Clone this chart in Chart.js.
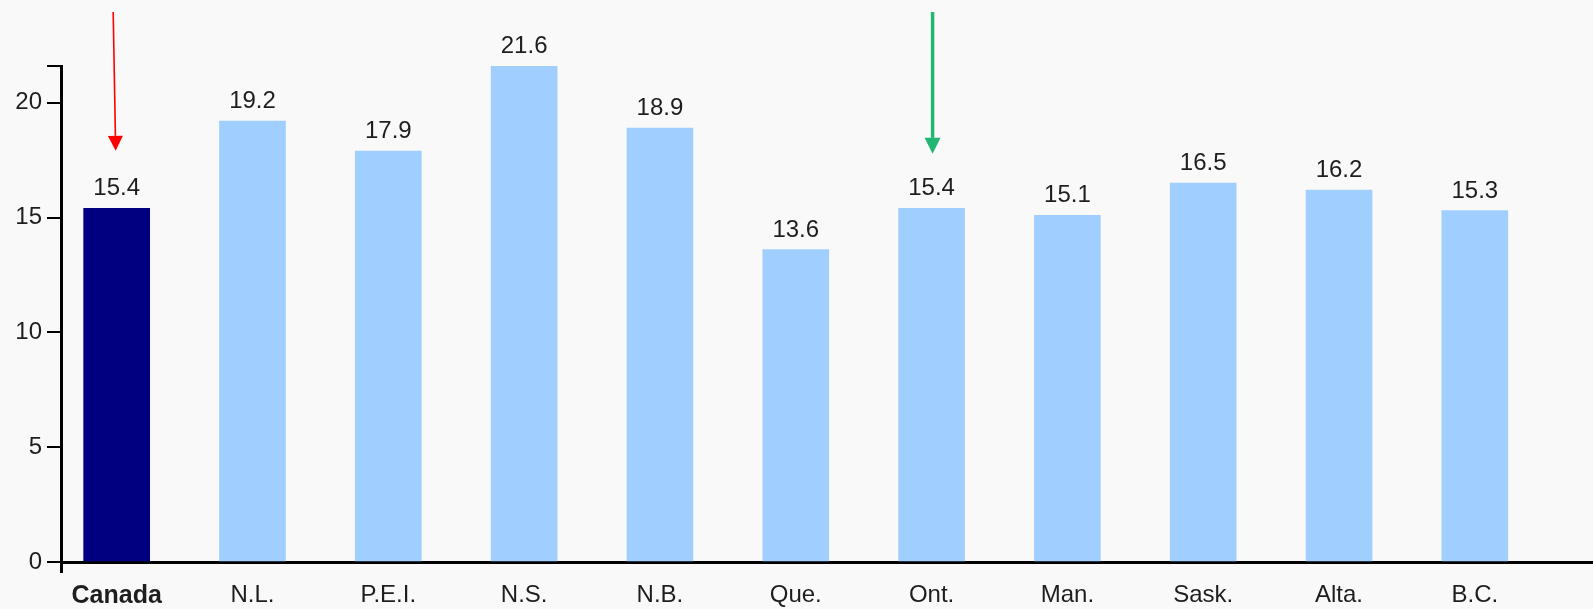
<!DOCTYPE html>
<html>
<head>
<meta charset="utf-8">
<script src="https://cdn.jsdelivr.net/npm/chart.js@4.4.1/dist/chart.umd.min.js"></script>
<style>
  html, body { margin: 0; padding: 0; background: #f9f9f9; }
  #wrap { width: 1593px; height: 609px; }
</style>
</head>
<body>
<div id="wrap"><canvas id="c" width="1593" height="609"></canvas></div>
<script>
const categories = ['Canada', 'N.L.', 'P.E.I.', 'N.S.', 'N.B.', 'Que.', 'Ont.', 'Man.', 'Sask.', 'Alta.', 'B.C.'];
const values = [15.4, 19.2, 17.9, 21.6, 18.9, 13.6, 15.4, 15.1, 16.5, 16.2, 15.3];
const yTicks = [0, 5, 10, 15, 20];
const highlightIndex = 0;   // red arrow, navy bar
const markedIndex = 6;      // green arrow

const FONT = '"Liberation Sans", Arial, sans-serif';
const TEXT = '#1e1e1e';
const NAVY = '#000080';
const LIGHT = '#a0cfff';

const xMin = -0.41, xMax = 10.87, yMax = 21.6;

const annot = {
  id: 'annot',
  afterDatasetsDraw(chart) {
    const ctx = chart.ctx;
    const meta = chart.getDatasetMeta(0);
    ctx.save();
    ctx.font = '24px ' + FONT;
    ctx.fillStyle = TEXT;
    ctx.textAlign = 'center';
    ctx.textBaseline = 'alphabetic';
    meta.data.forEach((bar, i) => {
      ctx.fillText(values[i].toFixed(1), bar.x, bar.y - 13);
    });
    const arrow = (x1, y1, x2, y2, color, lw, hw, hh) => {
      const ang = Math.atan2(y2 - y1, x2 - x1);
      const bx = x2 - hh * Math.cos(ang), by = y2 - hh * Math.sin(ang);
      ctx.strokeStyle = color; ctx.fillStyle = color; ctx.lineWidth = lw;
      ctx.beginPath(); ctx.moveTo(x1, y1); ctx.lineTo(bx, by); ctx.stroke();
      const px = -Math.sin(ang) * hw / 2, py = Math.cos(ang) * hw / 2;
      ctx.beginPath();
      ctx.moveTo(x2, y2); ctx.lineTo(bx + px, by + py); ctx.lineTo(bx - px, by - py);
      ctx.closePath(); ctx.fill();
    };
    const r = meta.data[highlightIndex];
    arrow(r.x - 3.5, 12, r.x - 1, r.y - 57.5, '#ff0000', 1.6, 15, 15);
    const g = meta.data[markedIndex];
    arrow(g.x + 1, 12, g.x + 1, g.y - 54.5, '#22b573', 3.5, 16, 16);
    ctx.restore();
  }
};

new Chart(document.getElementById('c'), {
  type: 'bar',
  data: {
    datasets: [{
      data: values.map((v, i) => ({ x: i, y: v })),
      backgroundColor: values.map((v, i) => i === highlightIndex ? NAVY : LIGHT),
      borderWidth: 0,
      barThickness: 66
    }]
  },
  options: {
    responsive: false,
    animation: false,
    layout: { padding: { top: 66, left: 0, right: 0, bottom: 0 } },
    plugins: { legend: { display: false }, tooltip: { enabled: false } },
    scales: {
      x: {
        type: 'linear',
        min: xMin,
        max: xMax,
        offset: false,
        afterFit(scale) { scale.height = 47; },
        afterBuildTicks(scale) {
          scale.ticks = [{ value: xMin }].concat(categories.map((c, i) => ({ value: i })));
        },
        border: { display: true, color: '#000', width: 3 },
        grid: {
          offset: false,
          drawOnChartArea: false,
          drawTicks: true,
          tickLength: 11,
          lineWidth: 3,
          color: (ctx) => (ctx.tick && ctx.tick.value === xMin) ? '#000' : 'rgba(0,0,0,0)'
        },
        ticks: {
          autoSkip: false,
          maxRotation: 0,
          minRotation: 0,
          padding: 8,
          color: TEXT,
          font: (ctx) => (ctx.tick && ctx.tick.value === highlightIndex)
            ? { family: FONT, size: 25, weight: 'bold' }
            : { family: FONT, size: 24, weight: 'normal' },
          callback: (v) => Number.isInteger(v) && v >= 0 ? categories[v] : ''
        }
      },
      y: {
        min: 0,
        max: yMax,
        afterFit(scale) { scale.width = 61; },
        afterBuildTicks(scale) {
          scale.ticks = yTicks.map(v => ({ value: v })).concat([{ value: yMax }]);
        },
        border: { display: true, color: '#000', width: 3 },
        grid: {
          drawOnChartArea: false,
          drawTicks: true,
          tickLength: 14,
          lineWidth: 2,
          color: '#000'
        },
        ticks: {
          padding: 5,
          color: TEXT,
          font: { family: FONT, size: 24 },
          callback: (v) => yTicks.includes(v) ? String(v) : ''
        }
      }
    }
  },
  plugins: [annot]
});
</script>
</body>
</html>
